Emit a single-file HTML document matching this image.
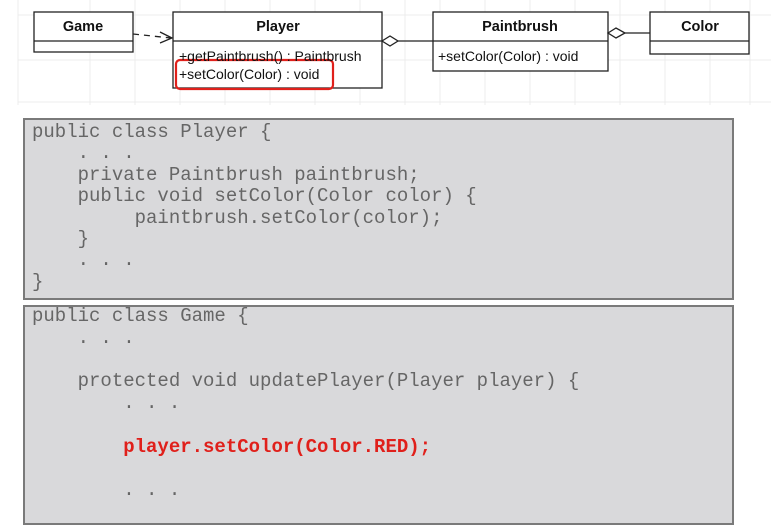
<!DOCTYPE html>
<html><head><style>
body{margin:0;width:771px;height:511px;overflow:hidden;background:#fff;position:relative;font-family:"Liberation Sans",sans-serif}
.code{position:absolute;left:32px;font-family:"Liberation Mono",monospace;font-size:19px;line-height:21.4px;white-space:pre;color:#666;margin:0}
.box{position:absolute;background:#d9d9db;border:2px solid #7a7a7a;box-sizing:border-box}
</style></head><body>
<svg width="771" height="110" style="position:absolute;left:0;top:0">
<g stroke="#ececec" stroke-width="1">
<line x1="18" y1="0" x2="18" y2="105"/><line x1="90" y1="0" x2="90" y2="105"/><line x1="135" y1="0" x2="135" y2="105"/>
<line x1="180" y1="0" x2="180" y2="105"/><line x1="225" y1="0" x2="225" y2="105"/><line x1="270" y1="0" x2="270" y2="105"/>
<line x1="315" y1="0" x2="315" y2="105"/><line x1="360" y1="0" x2="360" y2="105"/><line x1="405" y1="0" x2="405" y2="105"/>
<line x1="440" y1="0" x2="440" y2="105"/><line x1="485" y1="0" x2="485" y2="105"/><line x1="530" y1="0" x2="530" y2="105"/>
<line x1="575" y1="0" x2="575" y2="105"/><line x1="620" y1="0" x2="620" y2="105"/><line x1="665" y1="0" x2="665" y2="105"/>
<line x1="710" y1="0" x2="710" y2="105"/><line x1="750" y1="0" x2="750" y2="105"/>
<line x1="18" y1="15" x2="771" y2="15"/><line x1="18" y1="60" x2="771" y2="60"/><line x1="18" y1="102" x2="771" y2="102"/>
</g>
<g fill="#fff" stroke="#222" stroke-width="1.3">
<rect x="34" y="12" width="99" height="40"/><line x1="34" y1="41" x2="133" y2="41"/>
<rect x="173" y="12" width="209" height="76"/><line x1="173" y1="41" x2="382" y2="41"/>
<rect x="433" y="12" width="175" height="59"/><line x1="433" y1="41" x2="608" y2="41"/>
<rect x="650" y="12" width="99" height="42"/><line x1="650" y1="41" x2="749" y2="41"/>
</g>
<g stroke="#222" stroke-width="1.3" fill="none">
<line x1="133" y1="34" x2="171" y2="38" stroke-dasharray="6,5"/>
<polyline points="160,32 172,38 160,43"/>
<line x1="398" y1="41" x2="433" y2="41"/>
<polygon points="382,41 390,36 398,41 390,46" fill="#fff"/>
<line x1="625" y1="33" x2="650" y2="33"/>
<polygon points="608,33 616,28 625,33 616,38" fill="#fff"/>
</g>
<rect x="176" y="60" width="157" height="29" rx="4" fill="none" stroke="#e0201b" stroke-width="2.2"/>
<g font-family="Liberation Sans, sans-serif" fill="#111">
<text x="83" y="31" font-size="14.5" font-weight="bold" text-anchor="middle">Game</text>
<text x="278" y="31" font-size="14.5" font-weight="bold" text-anchor="middle">Player</text>
<text x="520" y="31" font-size="14.5" font-weight="bold" text-anchor="middle">Paintbrush</text>
<text x="700" y="31" font-size="14.5" font-weight="bold" text-anchor="middle">Color</text>
<text x="179" y="61" font-size="14">+getPaintbrush() : Paintbrush</text>
<text x="179" y="79" font-size="14">+setColor(Color) : void</text>
<text x="438" y="61" font-size="14">+setColor(Color) : void</text>
</g>
</svg>
<div class="box" style="left:23px;top:118px;width:711px;height:182px"></div>
<div class="box" style="left:23px;top:305px;width:711px;height:220px"></div>
<pre class="code" style="top:122px">public class Player {
    . . .
    private Paintbrush paintbrush;
    public void setColor(Color color) {
         paintbrush.setColor(color);
    }
    . . .
}</pre>
<pre class="code" style="top:306px;line-height:21.8px">public class Game {
    . . .

    protected void updatePlayer(Player player) {
        . . .

        <b style="color:#e0201b">player.setColor(Color.RED);</b>

        . . .</pre>
</body></html>
